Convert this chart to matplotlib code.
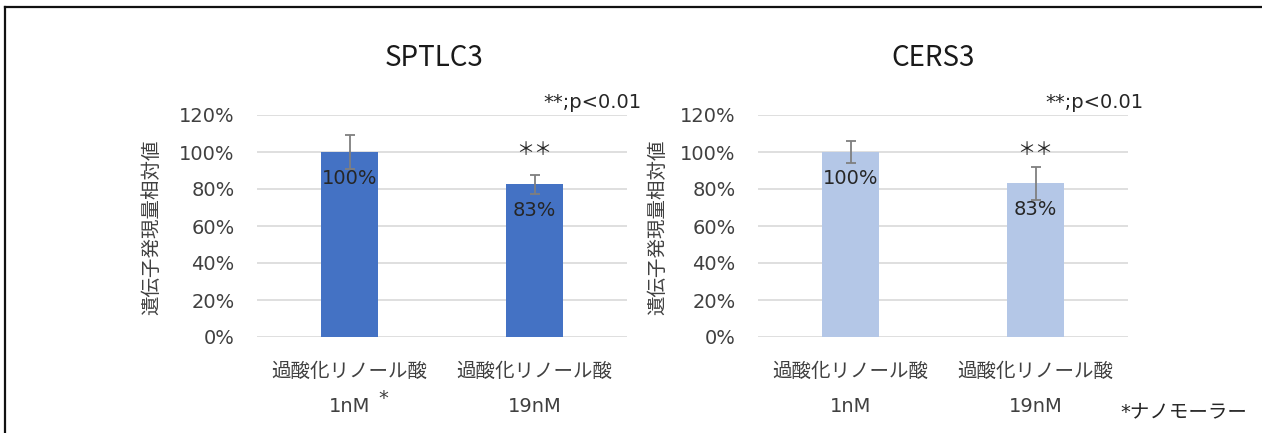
import matplotlib
matplotlib.use("Agg")
import matplotlib.pyplot as plt
from matplotlib.lines import Line2D
from matplotlib.transforms import blended_transform_factory

LATIN = ['DejaVu Sans', 'Noto Sans CJK JP']
CJK = ['Noto Sans CJK JP', 'DejaVu Sans']
plt.rcParams['font.family'] = LATIN

# ---- data ----
categories_top = ["過酸化リノール酸", "過酸化リノール酸"]
categories_bottom = ["1nM", "19nM"]
titles = ["SPTLC3", "CERS3"]
sptlc3_values = [1.00, 0.825]
sptlc3_errors = [0.09, 0.05]
cers3_values = [1.00, 0.83]
cers3_errors = [0.06, 0.087]
value_labels = ["100%", "83%"]
yticks = [0, 0.2, 0.4, 0.6, 0.8, 1.0, 1.2]
ytick_labels = ["0%", "20%", "40%", "60%", "80%", "100%", "120%"]
ylabel = "遺伝子発現量相対値"
sig_note = "**;p<0.01"
sig_mark = "＊＊"
unit_note = "*ナノモーラー"

W, H = 1262, 433
fig = plt.figure(figsize=(W / 100, H / 100), dpi=100)
fig.patch.set_facecolor("white")

def fx(px):
    return px / W

def fy(py):
    return 1 - py / H

panels = [
    dict(title=titles[0], values=sptlc3_values, errors=sptlc3_errors, color="#4472C4",
         left=257, right=627, title_x=434, ylab_x=152, note_right=642, star_note=True),
    dict(title=titles[1], values=cers3_values, errors=cers3_errors, color="#B4C7E7",
         left=758, right=1128, title_x=933, ylab_x=658, note_right=1144, star_note=False),
]

top_px, bottom_px = 115, 337
text_col = "#404040"

for p in panels:
    ax = fig.add_axes([fx(p["left"]), fy(bottom_px), fx(p["right"] - p["left"]),
                       (bottom_px - top_px) / H])
    x = list(range(len(p["values"])))
    ax.bar(x, p["values"], width=0.31, color=p["color"], zorder=2)
    ax.errorbar(x, p["values"], yerr=p["errors"], fmt="none", ecolor="#7F7F7F",
                elinewidth=1.3, capsize=3.5, capthick=1.3, zorder=3)
    ax.set_xlim(-0.5, 1.5)
    ax.set_ylim(0, 1.2)
    ax.set_yticks(yticks)
    ax.set_yticklabels(ytick_labels, fontsize=14, color=text_col)
    ax.set_xticks([])
    ax.tick_params(axis="y", length=0, pad=16)
    ax.grid(axis="y", color="#D9D9D9", linewidth=1.2, zorder=0)
    for s in ax.spines.values():
        s.set_visible(False)
    # data labels
    for xi, v, lab in zip(x, p["values"], value_labels):
        ax.annotate(lab, xy=(xi, v), xytext=(0, -12), textcoords="offset points",
                    ha="center", va="top", fontsize=14, color="#262626", zorder=4)
    # significance stars
    ax.text(1, 1.01, sig_mark, ha="center", va="center", fontsize=13,
            color="#262626", family=CJK)
    # category labels
    tr = blended_transform_factory(ax.transData, fig.transFigure)
    for xi, t1, t2 in zip(x, categories_top, categories_bottom):
        ax.text(xi, fy(371), t1, transform=tr, ha="center", va="center",
                fontsize=14, color=text_col, family=CJK)
        ax.text(xi, fy(407), t2, transform=tr, ha="center", va="center",
                fontsize=14, color=text_col)
    if p["star_note"]:
        ax.annotate("*", xy=(0, fy(407)), xycoords=tr, xytext=(24, 6),
                    textcoords="offset points", ha="center", va="center",
                    fontsize=14, color=text_col)
    # title, ylabel, note
    fig.text(fx(p["title_x"]), fy(58), p["title"], ha="center", va="center",
             fontsize=20, color="#1a1a1a", family=CJK)
    fig.text(fx(p["ylab_x"]), fy(227), ylabel, rotation=90, ha="center", va="center",
             fontsize=14, color=text_col, family=CJK)
    fig.text(fx(p["note_right"]), fy(103), sig_note, ha="right", va="center",
             fontsize=14, color="#262626")

fig.text(fx(1247), fy(412), unit_note, ha="right", va="center", fontsize=14, color="#262626")

# frame lines (top and left)
fig.add_artist(Line2D([fx(5), 1], [fy(6.5), fy(6.5)], transform=fig.transFigure,
                      color="#111111", linewidth=1.6))
fig.add_artist(Line2D([fx(5), fx(5)], [fy(6.5), 0], transform=fig.transFigure,
                      color="#111111", linewidth=1.6))

fig.savefig("out.png", dpi=100, facecolor="white")
